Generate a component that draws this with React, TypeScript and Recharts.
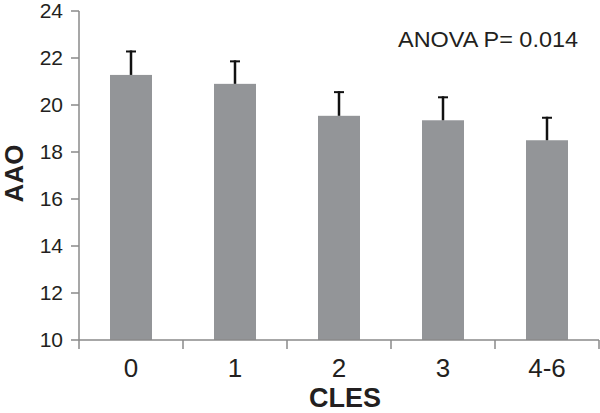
import React from 'react';
import { BarChart, Bar, XAxis, YAxis, Label } from 'recharts';

const categories = ['0', '1', '2', '3', '4-6'];
const means = [21.28, 20.9, 19.54, 19.35, 18.5];
const errors = [1.04, 1.0, 1.05, 1.02, 1.0];
const yTicks = [10, 12, 14, 16, 18, 20, 22, 24];

const data = categories.map((c, i) => ({ cat: c, mean: means[i], err: errors[i] }));

const FONT = '"Liberation Sans", Arial, sans-serif';
const TEXT = '#231f20';
const AXIS = '#8a8a8a';
const BAR = '#939598';
const Y_MIN = 10;

const BarWithError = (props: any) => {
  const { x, y, width, height, payload } = props;
  const perUnit = height / (payload.mean - Y_MIN);
  const top = y - payload.err * perUnit;
  const cx = x + width / 2;
  return (
    <g>
      <rect x={x} y={y} width={width} height={height} fill={BAR} />
      <line x1={cx} x2={cx} y1={y} y2={top} stroke="#111" strokeWidth={2.5} />
      <line x1={cx - 5} x2={cx + 5} y1={top + 1} y2={top + 1} stroke="#111" strokeWidth={2} />
    </g>
  );
};

const XTick = (props: any) => {
  const { x, y, payload, index, visibleTicksCount, width } = props;
  const half = payload && payload.offset ? payload.offset : width / visibleTicksCount / 2;
  const isLast = index === visibleTicksCount - 1;
  return (
    <g>
      <line x1={x - half} x2={x - half} y1={y} y2={y + 9} stroke={AXIS} strokeWidth={1.5} />
      {isLast && <line x1={x + half} x2={x + half} y1={y} y2={y + 9} stroke={AXIS} strokeWidth={1.5} />}
      <text x={x} y={y + 37} textAnchor="middle" fontSize={26} fontFamily={FONT} fill={TEXT}>
        {payload.value}
      </text>
    </g>
  );
};

export default function App() {
  return (
    <div style={{ position: 'absolute', left: 0, top: 0, width: 600, height: 413, background: '#fff' }}>
      <BarChart
        width={600}
        height={413}
        data={data}
        margin={{ top: 11, right: 1, bottom: 0, left: 0 }}
      >
        <XAxis
          dataKey="cat"
          height={73}
          tickLine={false}
          tickSize={0}
          tickMargin={0}
          axisLine={{ stroke: AXIS, strokeWidth: 1.5 }}
          tick={<XTick />}
          interval={0}
        >
          <Label
            content={(p: any) => {
              const vb = p.viewBox;
              return (
                <text
                  x={vb.x + vb.width / 2 + 6}
                  y={407}
                  textAnchor="middle"
                  fontSize={27}
                  fontWeight="bold"
                  fontFamily={FONT}
                  fill={TEXT}
                >
                  CLES
                </text>
              );
            }}
          />
        </XAxis>
        <YAxis
          width={79}
          domain={[10, 24]}
          ticks={yTicks}
          interval={0}
          tickSize={8}
          tickMargin={8}
          axisLine={{ stroke: AXIS, strokeWidth: 1.5 }}
          tickLine={{ stroke: AXIS, strokeWidth: 1.5 }}
          tick={{ fontSize: 21, fontFamily: FONT, fill: TEXT }}
        >
          <Label
            content={(p: any) => {
              const vb = p.viewBox;
              const cy = vb.y + vb.height / 2 - 2;
              return (
                <text
                  x={23}
                  y={cy}
                  transform={`rotate(-90, 23, ${cy})`}
                  textAnchor="middle"
                  fontSize={26}
                  fontWeight="bold"
                  fontFamily={FONT}
                  fill={TEXT}
                >
                  AAO
                </text>
              );
            }}
          />
        </YAxis>
        <Bar dataKey="mean" barSize={42} shape={<BarWithError />} isAnimationActive={false} />
      </BarChart>
      <svg
        width={600}
        height={413}
        style={{ position: 'absolute', left: 0, top: 0, pointerEvents: 'none' }}
      >
        <text
          x={398}
          y={47}
          fontSize={22}
          fontFamily={FONT}
          fill={TEXT}
          textLength={180}
          lengthAdjust="spacingAndGlyphs"
        >
          ANOVA P= 0.014
        </text>
      </svg>
    </div>
  );
}
